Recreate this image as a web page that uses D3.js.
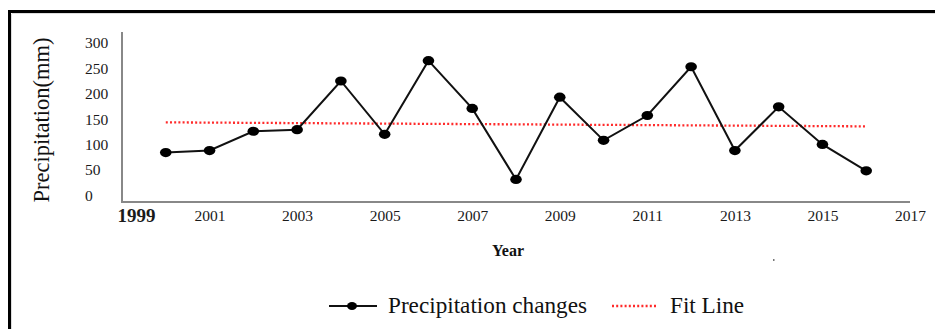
<!DOCTYPE html>
<html>
<head>
<meta charset="utf-8">
<script src="https://cdn.jsdelivr.net/npm/d3@7/dist/d3.min.js"></script>
<style>
  html, body { margin: 0; padding: 0; background: #fff; }
  svg { display: block; }
  svg text { font-family: "Liberation Serif", "Times New Roman", serif !important; }
</style>
</head>
<body>
<svg id="chart" width="935" height="329"></svg>
<script>
// ---- data ----
const years = [2000, 2001, 2002, 2003, 2004, 2005, 2006, 2007, 2008, 2009, 2010, 2011, 2012, 2013, 2014, 2015, 2016];
const precipitation = [84, 88, 126, 129, 225, 120, 265, 171, 31, 193, 108, 157, 253, 88, 174, 100, 48];
const fitYears = [2000, 2016];
const fitValues = [143.5, 135.6];
const xTickYears = [1999, 2001, 2003, 2005, 2007, 2009, 2011, 2013, 2015, 2017];
const yTickValues = [0, 50, 100, 150, 200, 250, 300];
const seriesNames = ["Precipitation changes", "Fit Line"];

const svg = d3.select("#chart");

// outer frame (cut off at right/bottom like the reference)
svg.append("rect").attr("x", 9.5).attr("y", 11.5).attr("width", 940).attr("height", 340)
  .attr("fill", "none").attr("stroke", "#000").attr("stroke-width", 3);
svg.append("line").attr("x1", 12).attr("x2", 935).attr("y1", 13.5).attr("y2", 13.5)
  .attr("stroke", "#ddd").attr("stroke-width", 1);
svg.append("line").attr("x1", 11.5).attr("x2", 11.5).attr("y1", 14).attr("y2", 329)
  .attr("stroke", "#ddd").attr("stroke-width", 1);

const x = d3.scaleLinear().domain([1999, 2017]).range([122, 910]);
const y = d3.scaleLinear().domain([0, 300]).range([195.2, 42.9]);

// axes lines
svg.append("line").attr("x1", 122).attr("x2", 122).attr("y1", 32).attr("y2", 203)
  .attr("stroke", "#888").attr("stroke-width", 2);
svg.append("line").attr("x1", 121).attr("x2", 910).attr("y1", 202).attr("y2", 202)
  .attr("stroke", "#888").attr("stroke-width", 2);

// y tick labels
const yAxis = d3.axisLeft(y).tickValues(yTickValues).tickSize(0).tickFormat(d3.format("d"));
const gy = svg.append("g").attr("transform", "translate(85,0)").call(yAxis)
  .attr("font-family", null).attr("font-size", null);
gy.select(".domain").remove();
gy.selectAll("text").attr("text-anchor", "start").attr("x", 0)
  .attr("font-size", 15.5).attr("fill", "#1a1a1a");

// x tick labels
const xAxis = d3.axisBottom(x).tickValues(xTickYears).tickSize(0).tickFormat(d3.format("d"));
const gx = svg.append("g").attr("transform", "translate(0,207)").call(xAxis)
  .attr("font-family", null).attr("font-size", null);
gx.select(".domain").remove();
gx.selectAll("text").attr("font-size", 15.5).attr("fill", "#1a1a1a").attr("dy", "0.7em");
gx.selectAll(".tick").filter(d => d === 1999).select("text")
  .attr("font-size", 19).attr("font-weight", "bold").attr("dx", 14).attr("dy", "0.62em");

// axis titles
svg.append("text").attr("x", 508).attr("y", 256).attr("text-anchor", "middle")
  .attr("font-size", 16).attr("font-weight", "bold").attr("fill", "#111").text("Year");
svg.append("text").attr("transform", "translate(49,120) rotate(-90)").attr("text-anchor", "middle")
  .attr("font-size", 22.5).attr("fill", "#111").text("Precipitation(mm)");

// fit line
const fitData = fitYears.map((yr, i) => [yr, fitValues[i]]);
svg.append("path").datum(fitData)
  .attr("d", d3.line().x(d => x(d[0])).y(d => y(d[1])))
  .attr("fill", "none").attr("stroke", "#ff2a2a").attr("stroke-width", 2.3)
  .attr("stroke-dasharray", "2,2.2");

// precipitation line
const data = years.map((yr, i) => [yr, precipitation[i]]);
svg.append("path").datum(data)
  .attr("d", d3.line().x(d => x(d[0])).y(d => y(d[1])))
  .attr("fill", "none").attr("stroke", "#111").attr("stroke-width", 2);
svg.selectAll("ellipse.pt").data(data).enter().append("ellipse").attr("class", "pt")
  .attr("cx", d => x(d[0])).attr("cy", d => y(d[1]))
  .attr("rx", 5.8).attr("ry", 4.6).attr("fill", "#000");

// legend
const lg = svg.append("g");
lg.append("line").attr("x1", 329).attr("x2", 377).attr("y1", 306).attr("y2", 306)
  .attr("stroke", "#111").attr("stroke-width", 2);
lg.append("ellipse").attr("cx", 352).attr("cy", 306).attr("rx", 5).attr("ry", 4).attr("fill", "#000");
lg.append("text").attr("x", 388).attr("y", 313).attr("font-size", 23.2).attr("fill", "#111").text(seriesNames[0]);
lg.append("line").attr("x1", 612).attr("x2", 658).attr("y1", 306).attr("y2", 306)
  .attr("stroke", "#ff2a2a").attr("stroke-width", 2.3).attr("stroke-dasharray", "2,2.2");
lg.append("text").attr("x", 670).attr("y", 313).attr("font-size", 23.2).attr("fill", "#111").text(seriesNames[1]);

// tiny stray mark
svg.append("rect").attr("x", 773).attr("y", 259).attr("width", 1.5).attr("height", 2).attr("fill", "#777");
</script>
</body>
</html>
